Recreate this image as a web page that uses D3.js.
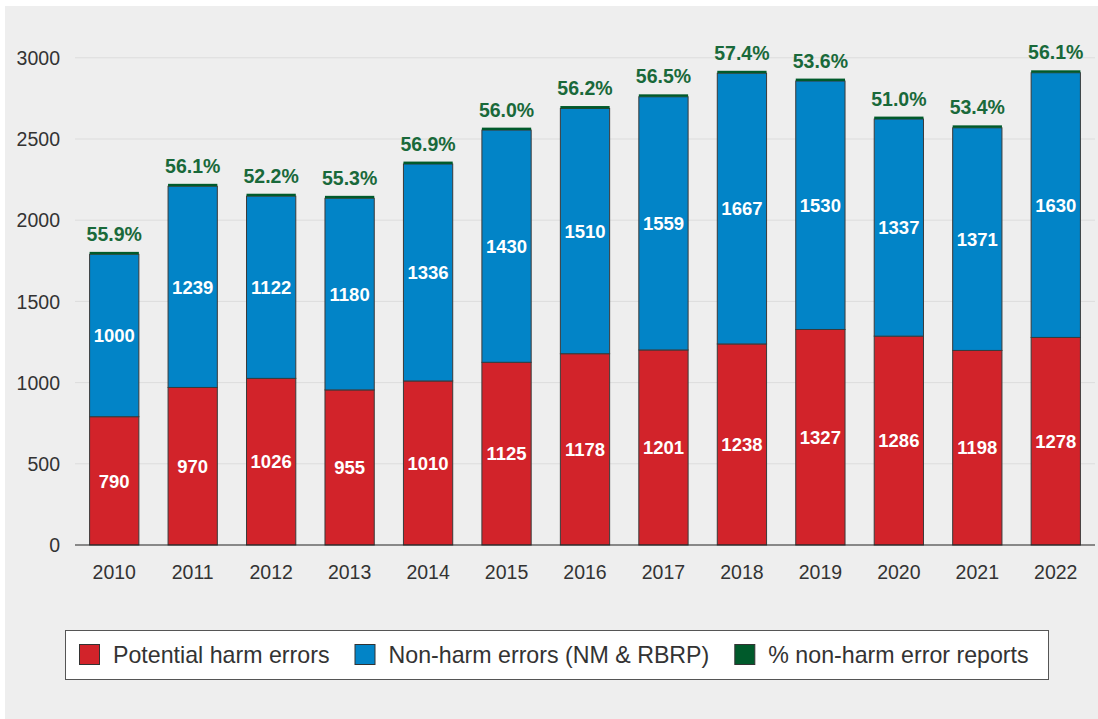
<!DOCTYPE html>
<html>
<head>
<meta charset="utf-8">
<script src="https://cdn.jsdelivr.net/npm/d3@7/dist/d3.min.js"></script>
<style>
  html, body { margin: 0; padding: 0; background: #ffffff; }
  svg { display: block; }
  svg text { font-family: "Helvetica Neue", Helvetica, Arial, "Liberation Sans", sans-serif; }
</style>
</head>
<body>
<svg id="chart" width="1098" height="719"></svg>
<script>
// Error reports per year
const years = ["2010","2011","2012","2013","2014","2015","2016","2017","2018","2019","2020","2021","2022"];
const harmErrors = [790, 970, 1026, 955, 1010, 1125, 1178, 1201, 1238, 1327, 1286, 1198, 1278];
const nonHarmErrors = [1000, 1239, 1122, 1180, 1336, 1430, 1510, 1559, 1667, 1530, 1337, 1371, 1630];
const nonHarmPct = ["55.9%","56.1%","52.2%","55.3%","56.9%","56.0%","56.2%","56.5%","57.4%","53.6%","51.0%","53.4%","56.1%"];
// thin cap drawn on top of each stack to carry the percentage
const pctCap = [15, 15, 15, 15, 15, 15, 15, 15, 15, 15, 15, 15, 15];
const yTicks = [0, 500, 1000, 1500, 2000, 2500, 3000];
const seriesNames = ["Potential harm errors", "Non-harm errors (NM & RBRP)", "% non-harm error reports"];
const seriesColors = ["#d2232a", "#0284c7", "#005a2b"];

const svg = d3.select("#chart");
svg.append("rect").attr("x", 5).attr("y", 6).attr("width", 1093).attr("height", 713).attr("fill", "#eeeeee");

const plot = { left: 75, right: 1095, top: 57.8, bottom: 545 };

const x = d3.scaleBand().domain(years).range([plot.left, plot.right])
  .paddingInner(0.372).paddingOuter(0.186);
const y = d3.scaleLinear().domain([0, 3000]).range([plot.bottom, plot.top]);

// gridlines
svg.append("g").selectAll("line").data(yTicks.filter(d => d > 0)).join("line")
  .attr("x1", plot.left).attr("x2", plot.right)
  .attr("y1", d => y(d)).attr("y2", d => y(d))
  .attr("stroke", "#dcdcdc").attr("stroke-width", 1);

// y tick labels
const yAxis = d3.axisLeft(y).tickValues(yTicks).tickFormat(d3.format("d")).tickSize(0).tickPadding(15);
const gy = svg.append("g").attr("transform", `translate(${plot.left},0)`).call(yAxis);
gy.select(".domain").remove();
gy.attr("font-family", null);
gy.selectAll("text").attr("font-size", 19.5).attr("fill", "#333").attr("dy", "0.34em");

// stacked data
const rows = years.map((yr, i) => ({ year: yr, harm: harmErrors[i], nonharm: nonHarmErrors[i], cap: pctCap[i] }));
const keys = ["harm", "nonharm", "cap"];
const stacked = d3.stack().keys(keys)(rows);

const layers = svg.append("g").selectAll("g").data(stacked).join("g")
  .attr("fill", (d, i) => seriesColors[i]);

layers.selectAll("rect").data(d => d).join("rect")
  .attr("x", d => x(d.data.year))
  .attr("width", x.bandwidth())
  .attr("y", d => y(d[1]))
  .attr("height", d => y(d[0]) - y(d[1]))
  .attr("stroke", function () { return d3.select(this.parentNode).datum().key === "cap" ? "none" : "#3a3a3a"; })
  .attr("stroke-width", 1);

// value labels inside segments
stacked.slice(0, 2).forEach(layer => {
  svg.append("g").selectAll("text").data(layer).join("text")
    .attr("x", d => x(d.data.year) + x.bandwidth() / 2)
    .attr("y", d => (y(d[0]) + y(d[1])) / 2)
    .attr("dy", "0.36em")
    .attr("text-anchor", "middle")
    .attr("font-size", 18.5).attr("font-weight", "bold").attr("fill", "#ffffff")
    .text(d => d.data[layer.key]);
});

// percentage labels above stacks
svg.append("g").selectAll("text").data(stacked[2]).join("text")
  .attr("x", d => x(d.data.year) + x.bandwidth() / 2)
  .attr("y", d => y(d[1]) - 11)
  .attr("text-anchor", "middle")
  .attr("font-size", 19.5).attr("font-weight", "bold").attr("fill", "#19693a")
  .text((d, i) => nonHarmPct[i]);

// baseline axis
const xAxis = d3.axisBottom(x).tickSize(0).tickPadding(20);
const gx = svg.append("g").attr("transform", `translate(0,${plot.bottom})`).call(xAxis);
gx.select(".domain").remove();
gx.attr("font-family", null);
gx.selectAll("text").attr("font-size", 19.5).attr("fill", "#333");
svg.append("line").attr("x1", plot.left).attr("x2", plot.right)
  .attr("y1", y(0)).attr("y2", y(0)).attr("stroke", "#222").attr("stroke-width", 1.2);

// legend
const legend = svg.append("g");
legend.append("rect").attr("x", 65.5).attr("y", 630.5).attr("width", 983).attr("height", 49)
  .attr("fill", "#ffffff").attr("stroke", "#555").attr("stroke-width", 1);
let lx = 79;
seriesNames.forEach((name, i) => {
  legend.append("rect").attr("x", lx + 0.5).attr("y", 644.5).attr("width", 20).attr("height", 20)
    .attr("fill", seriesColors[i]).attr("stroke", "#333").attr("stroke-width", 1);
  const t = legend.append("text").attr("x", lx + 34).attr("y", 663)
    .attr("font-size", 23.2).attr("fill", "#333").text(name);
  lx = lx + 34 + t.node().getComputedTextLength() + 25;
});
</script>
</body>
</html>
